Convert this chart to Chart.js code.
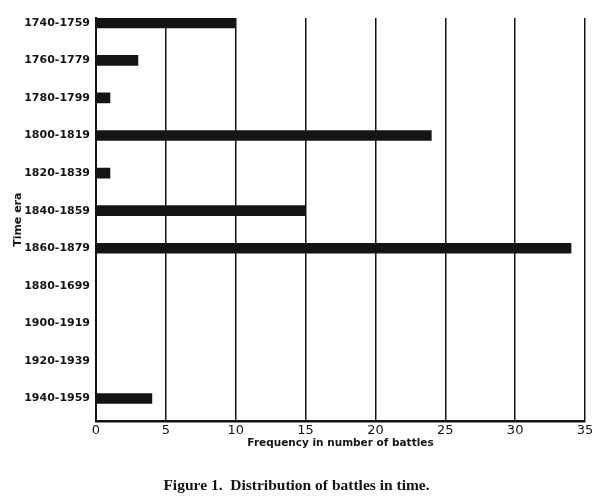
<!DOCTYPE html>
<html>
<head>
<meta charset="utf-8">
<script src="https://cdn.jsdelivr.net/npm/chart.js@4"></script>
<style>
  html, body { margin: 0; padding: 0; background: #fff; }
</style>
</head>
<body>
<canvas id="battleChart" width="600" height="501"></canvas>
<script>
// Figure 1 - distribution of battles in time

const eras = ['1740-1759', '1760-1779', '1780-1799', '1800-1819', '1820-1839',
  '1840-1859', '1860-1879', '1880-1699', '1900-1919', '1920-1939', '1940-1959'];
const battleCounts = [10, 3, 1, 24, 1, 15, 34, 0, 0, 0, 4];
const freqTicks = [0, 5, 10, 15, 20, 25, 30, 35];

const ink = '#141414';

Chart.defaults.font.family = "'DejaVu Sans', sans-serif";
Chart.defaults.color = ink;

// one point per era, y is the era index
const points = battleCounts.map((v, i) => ({ x: v, y: i }));

new Chart(document.getElementById('battleChart'), {
  type: 'bar',
  data: {
    datasets: [{
      data: points,
      backgroundColor: ink,
      borderWidth: 0,
      barThickness: 10
    }]
  },
  options: {
    indexAxis: 'y',
    responsive: false,
    animation: false,
    layout: { padding: { top: 18, right: 15, bottom: 4, left: 8 } },
    plugins: {
      legend: { display: false },
      tooltip: { enabled: false },
      title: {
        display: true,
        position: 'bottom',
        text: 'Figure 1.  Distribution of battles in time.',
        color: ink,
        font: { family: "'Liberation Serif', serif", size: 15.5, weight: 'bold' },
        padding: { top: 25, bottom: 2 }
      }
    },
    scales: {
      x: {
        type: 'linear',
        min: 0,
        max: 35,
        afterBuildTicks: s => { s.ticks = freqTicks.map(v => ({ value: v })); },
        afterFit: s => { s.height = 30; },
        grid: { color: ink, lineWidth: 1.5, drawTicks: false },
        border: { color: ink, width: 2.5 },
        ticks: { font: { size: 13 }, padding: 1, color: ink },
        title: {
          display: true,
          text: 'Frequency in number of battles',
          font: { size: 10.5, weight: 'bold' },
          color: ink,
          padding: { top: 0, bottom: 2 }
        }
      },
      y: {
        type: 'linear',
        reverse: true,
        offset: false,
        min: -0.128,
        max: 10.61,
        afterBuildTicks: s => { s.ticks = eras.map((_, i) => ({ value: i })); },
        afterFit: s => { s.width = 88; },
        grid: { display: false, drawTicks: false, offset: false },
        border: { display: true, color: ink, width: 2 },
        ticks: {
          autoSkip: false,
          font: { size: 11, weight: 'bold' },
          padding: 6,
          color: ink,
          callback: v => eras[v]
        },
        title: {
          display: true,
          text: 'Time era',
          font: { size: 11, weight: 'bold' },
          color: ink,
          padding: { top: 4, bottom: 0 }
        }
      }
    }
  }
});
</script>
</body>
</html>
